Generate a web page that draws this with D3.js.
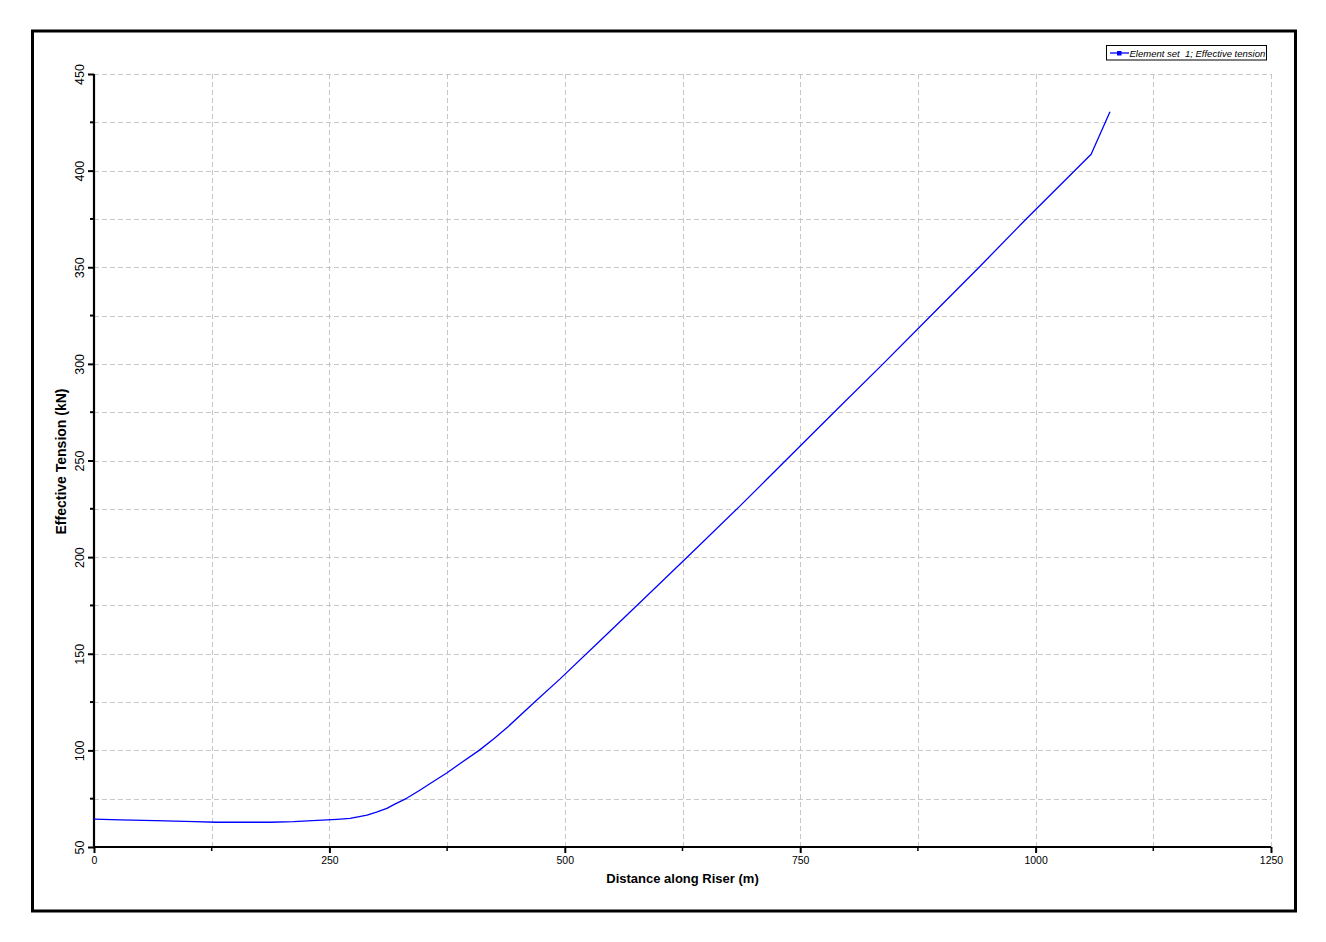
<!DOCTYPE html>
<html>
<head>
<meta charset="utf-8">
<script src="https://cdn.jsdelivr.net/npm/d3@7"></script>
<style>
  html, body { margin: 0; padding: 0; background: #fff; }
  svg { display: block; }
</style>
</head>
<body>
<svg id="chart" width="1326" height="942"></svg>
<script>
// ---- Data ----
const distance = [0, 28, 65, 107, 130, 187, 212, 232, 258, 272, 290, 300, 311, 320, 332, 346, 355, 375, 390, 409, 425, 440, 468, 495, 538, 581, 631, 684, 714, 750, 786, 838, 889, 940, 990, 1059, 1079];
const tension  = [64.4, 64.0, 63.6, 63.1, 62.8, 62.8, 63.1, 63.6, 64.3, 64.8, 66.5, 68.1, 70.0, 72.3, 75.2, 79.4, 82.2, 88.4, 93.6, 100, 106.2, 112.4, 125, 137, 157, 177, 200.5, 225.5, 240, 257.5, 275, 300, 325, 350, 375, 408.5, 430.5];
const xTickValues = [0, 250, 500, 750, 1000, 1250];
const yTickValues = [50, 100, 150, 200, 250, 300, 350, 400, 450];
const xGridValues = [125, 250, 375, 500, 625, 750, 875, 1000, 1125, 1250];
const yGridValues = [75, 100, 125, 150, 175, 200, 225, 250, 275, 300, 325, 350, 375, 400, 425, 450];
const xMinorValues = [125, 375, 625, 875, 1125];
const yMinorValues = [75, 125, 175, 225, 275, 325, 375, 425];
const seriesName = "Element set  1; Effective tension";
const xTitle = "Distance along Riser (m)";
const yTitle = "Effective Tension (kN)";

const svg = d3.select("#chart");
const L = 94, R = 1271, T = 74, B = 847;
const x = d3.scaleLinear().domain([0, 1250]).range([L, R]);
const y = d3.scaleLinear().domain([50, 450]).range([B, T]);

// outer frame
svg.append("rect").attr("x", 32.5).attr("y", 31).attr("width", 1263).attr("height", 880)
  .attr("fill", "none").attr("stroke", "#000").attr("stroke-width", 3);

// grid
const grid = svg.append("g").attr("stroke", "#c8c8c8").attr("stroke-width", 1).attr("stroke-dasharray", "5,3").attr("shape-rendering", "crispEdges");
grid.selectAll("line.v").data(xGridValues).join("line")
  .attr("x1", d => Math.round(x(d)) + 0.5).attr("x2", d => Math.round(x(d)) + 0.5)
  .attr("y1", T).attr("y2", B);
grid.selectAll("line.h").data(yGridValues).join("line")
  .attr("y1", d => Math.round(y(d)) + 0.5).attr("y2", d => Math.round(y(d)) + 0.5)
  .attr("x1", L).attr("x2", R);

// axes
const xAxis = svg.append("g").attr("transform", `translate(0,${B})`)
  .call(d3.axisBottom(x).tickValues(xTickValues).tickSize(6).tickFormat(d3.format("d")));
const yAxis = svg.append("g").attr("transform", `translate(${L},0)`)
  .call(d3.axisLeft(y).tickValues(yTickValues).tickSize(6).tickFormat(d3.format("d")));
[xAxis, yAxis].forEach(a => {
  a.select(".domain").attr("stroke", "#000").attr("stroke-width", 2.2);
  a.selectAll(".tick line").attr("stroke", "#000").attr("stroke-width", 2);
});
xAxis.select(".domain").attr("d", `M${L},0H${R}`);
yAxis.select(".domain").attr("d", `M0,${B}V${T}`);
xAxis.selectAll(".tick text").attr("y", 10).attr("dy", "0.71em")
  .attr("font-family", "Arial, 'Liberation Sans', sans-serif").attr("font-size", "10.5px").attr("fill", "#000");
yAxis.selectAll(".tick text")
  .attr("x", null).attr("dy", null)
  .attr("transform", "translate(-10.5,0) rotate(-90)")
  .attr("text-anchor", "middle")
  .attr("font-family", "Arial, 'Liberation Sans', sans-serif").attr("font-size", "12.5px").attr("fill", "#000");

// minor ticks
svg.append("g").selectAll("line").data(xMinorValues).join("line")
  .attr("x1", d => x(d)).attr("x2", d => x(d)).attr("y1", B).attr("y2", B + 4)
  .attr("stroke", "#000").attr("stroke-width", 1.5);
svg.append("g").selectAll("line").data(yMinorValues).join("line")
  .attr("y1", d => y(d)).attr("y2", d => y(d)).attr("x1", L).attr("x2", L - 4)
  .attr("stroke", "#000").attr("stroke-width", 2);

// titles
svg.append("text").attr("x", (L + R) / 2).attr("y", 883).attr("text-anchor", "middle")
  .attr("font-family", "Arial, 'Liberation Sans', sans-serif").attr("font-size", "13px").attr("font-weight", "bold")
  .attr("fill", "#000").text(xTitle);
svg.append("text").attr("transform", `translate(66,${(T + B) / 2 + 1}) rotate(-90)`).attr("text-anchor", "middle")
  .attr("font-family", "Arial, 'Liberation Sans', sans-serif").attr("font-size", "14px").attr("font-weight", "bold")
  .attr("fill", "#000").text(yTitle);

// series line
const data = distance.map((d, i) => [d, tension[i]]);
svg.append("path").datum(data)
  .attr("fill", "none").attr("stroke", "#0000ff").attr("stroke-width", 1.3)
  .attr("stroke-linejoin", "round")
  .attr("d", d3.line().x(d => x(d[0])).y(d => y(d[1])).curve(d3.curveLinear));

// legend
const lg = svg.append("g");
lg.append("rect").attr("x", 1106.5).attr("y", 45.5).attr("width", 160).attr("height", 14.5)
  .attr("fill", "#fff").attr("stroke", "#000").attr("stroke-width", 1);
lg.append("line").attr("x1", 1110).attr("x2", 1129).attr("y1", 53).attr("y2", 53)
  .attr("stroke", "#0000ff").attr("stroke-width", 1.3);
lg.append("rect").attr("x", 1117).attr("y", 51).attr("width", 4.5).attr("height", 4.5).attr("fill", "#0000ff");
lg.append("text").attr("x", 1129.5).attr("y", 56.5)
  .attr("font-family", "Arial, 'Liberation Sans', sans-serif").attr("font-size", "9.5px").attr("font-style", "italic")
  .attr("fill", "#000").style("white-space", "pre").text(seriesName);
</script>
</body>
</html>
